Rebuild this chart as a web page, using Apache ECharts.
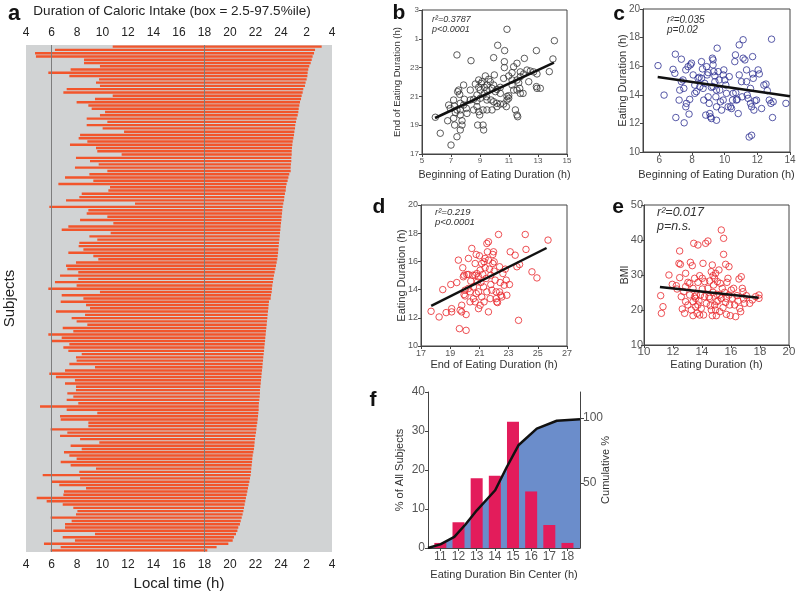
<!DOCTYPE html>
<html><head><meta charset="utf-8">
<script src="https://cdn.jsdelivr.net/npm/echarts@6/dist/echarts.min.js"></script>
<style>html,body{margin:0;padding:0;background:#fff}#c{width:800px;height:596px}</style>
</head><body><div id="c"></div>
<script>
// ---- Panel a: per-subject start / end of eating (h, >24 = next day)
const subjStart = [10.80,6.27,4.71,4.78,8.55,8.55,9.80,7.50,5.75,7.40,9.73,9.49,9.80,7.19,6.93,10.80,9.41,7.97,8.89,9.15,10.20,9.80,8.76,10.38,8.76,10.01,11.69,8.24,8.13,8.81,7.45,9.49,9.59,11.50,7.92,9.02,9.70,7.84,10.38,
8.97,7.06,9.28,6.54,10.59,10.46,8.37,8.18,7.14,12.55,5.83,8.89,8.76,10.38,8.24,10.85,7.32,6.80,10.64,8.97,9.59,8.18,8.13,8.50,7.32,9.28,9.67,7.92,7.14,7.24,8.10,6.67,8.10,6.27,7.97,5.75,9.80,6.80,8.50,
6.72,8.71,9.02,6.35,8.63,7.58,7.97,8.81,6.88,7.71,5.75,6.80,6.01,7.40,6.93,7.32,8.37,7.92,7.97,7.40,9.41,7.06,5.83,6.35,7.84,7.06,7.92,7.92,7.24,7.71,7.19,8.10,5.10,7.19,9.59,6.67,6.72,8.89,
8.89,5.93,7.24,6.67,8.24,9.75,7.50,8.37,6.98,7.40,7.97,6.72,7.50,9.49,8.18,5.31,8.24,6.01,6.61,8.71,6.98,6.93,4.84,5.62,6.88,7.71,8.03,7.92,5.93,7.58,7.06,7.06,6.14,9.41,6.88,7.84,5.41,6.72,5.93];
const subjEnd = [27.19,26.67,26.59,26.48,26.41,26.33,26.22,26.14,26.09,26.07,26.01,25.93,25.88,25.75,25.70,25.62,25.57,25.49,25.44,25.39,25.36,25.31,25.23,25.18,25.12,25.10,25.05,25.02,24.97,24.92,24.89,24.86,24.84,24.84,24.81,24.81,24.78,24.76,24.76,
24.65,24.58,24.52,24.44,24.39,24.37,24.31,24.26,24.24,24.18,24.13,24.10,24.08,24.05,24.03,24.00,23.97,23.95,23.92,23.90,23.87,23.84,23.82,23.79,23.77,23.74,23.71,23.66,23.61,23.56,23.50,23.45,23.40,23.37,23.32,23.29,23.27,23.22,23.19,
23.06,23.03,23.01,22.98,22.95,22.93,22.90,22.88,22.85,22.82,22.80,22.77,22.75,22.72,22.69,22.67,22.64,22.61,22.59,22.56,22.54,22.51,22.48,22.46,22.43,22.41,22.38,22.35,22.35,22.33,22.30,22.27,22.25,22.25,22.22,22.20,22.17,22.14,
22.09,22.07,22.04,21.99,21.96,21.93,21.91,21.88,21.83,21.78,21.75,21.73,21.70,21.67,21.65,21.62,21.57,21.52,21.46,21.41,21.36,21.31,21.25,21.20,21.15,21.10,21.05,20.99,20.92,20.84,20.78,20.65,20.58,20.47,20.31,20.21,19.87,18.95,18.22];
const hourTicks = [4,6,8,10,12,14,16,18,20,22,24,26,28];
const guideHours = [6,18];

// ---- Panel b: beginning vs end
const bBegin = [10.86,14.13,10.22,7.41,10.7,12.89,8.38,9.94,10.68,14.03,
12.06,11.55,10.68,11.32,9.99,12.24,12.47,12.7,12.93,13.78,
11.78,12.01,11.21,10.98,10.63,9.37,9.6,8.91,9.09,8.68,
7.87,7.53,8.33,8.91,9.3,9.48,9.83,10.17,9.94,10.4,
11.21,11.55,11.67,12.36,12.89,12.93,11.97,11.78,10.86,10.98,
10.4,10.06,7.46,7.6,7.18,7.23,6.84,6.95,7.41,7.64,
7.87,8.06,8.33,8.56,8.79,9.02,9.3,9.44,9.48,9.76,
9.94,10.17,10.4,10.63,10.82,10.86,10.98,11.32,11.55,11.74,
8.56,8.79,8.91,8.98,9.21,9.48,9.83,10.17,7.64,7.76,
7.18,6.77,5.92,7.25,7.76,8.84,9.21,9.25,7.64,7.41,
6.26,7.0,11.44,11.55,11.6,13.16,11.78,11.21,7.64,8.1,
7.3,7.92,8.79,9.02,9.14,9.71,9.48];
const bEnd = [25.66,24.87,24.55,23.88,24.18,24.18,23.48,23.69,23.41,23.6,
23.64,23.3,23.0,23.06,22.49,22.83,22.76,22.7,22.56,22.72,
22.7,22.56,22.65,22.42,22.25,22.42,22.19,22.14,21.9,21.86,
21.79,21.44,21.44,21.63,21.63,21.79,21.56,21.49,21.79,21.63,
21.79,22.14,21.95,22.02,21.68,21.56,21.21,21.21,21.0,21.05,
21.21,21.33,21.33,21.14,20.75,20.33,20.4,20.17,20.06,20.06,
20.4,20.17,20.75,20.8,20.68,20.87,21.21,20.98,20.75,20.75,
20.63,20.52,20.47,20.47,20.29,20.75,20.87,21.44,21.44,21.56,
20.06,20.29,19.94,19.71,20.06,20.06,20.06,20.29,19.71,19.31,
19.48,19.31,19.55,19.01,19.01,19.01,19.01,18.67,18.67,18.2,
18.44,17.62,20.06,19.71,19.59,21.56,22.37,22.14,20.52,19.82,
19.87,20.8,21.1,21.44,22.02,22.02,21.44];
const bFitX = [5.9,14.1], bFitY = [19.5,23.35];

// ---- Panel c: beginning vs duration
const cBegin = [5.92,6.29,6.98,6.84,6.95,7.01,7.21,7.35,7.25,7.45,
7.5,7.62,7.52,7.66,7.76,7.9,7.97,7.86,7.82,8.07,
8.17,8.27,8.37,8.44,8.58,8.64,8.58,8.68,8.72,8.84,
8.89,8.93,8.99,9.05,9.09,9.13,9.19,9.25,9.29,9.29,
9.33,9.4,9.4,9.29,9.46,9.5,9.5,9.54,9.6,9.66,
9.7,9.74,9.81,9.91,9.95,10.01,10.07,10.11,10.21,10.28,
10.36,10.42,10.48,10.62,10.66,10.68,10.72,10.77,10.83,10.89,
10.89,11.03,11.07,11.13,11.13,11.24,11.34,11.34,11.38,11.44,
11.5,11.65,11.58,11.58,11.65,11.71,11.71,11.75,11.79,11.85,
11.95,12.05,12.12,12.26,12.4,12.53,12.61,12.73,12.83,12.87,
12.93,12.97,13.75,8.17,8.48,8.78,7.35,7.62,9.19,9.91,
9.5,8.99,10.52];
const cDur = [16.04,13.98,16.84,15.78,15.5,12.41,13.63,16.49,14.33,15.04,
14.45,15.74,12.04,13.4,15.97,16.09,16.21,13.68,12.65,15.39,
14.1,14.22,15.15,15.22,16.32,15.81,15.15,14.45,13.63,12.58,
15.97,15.39,13.86,13.4,12.69,12.46,12.34,16.56,16.44,16.09,
15.62,15.32,14.92,14.57,13.86,13.16,12.22,17.26,15.62,15.04,
14.33,13.51,12.93,15.39,15.74,15.04,14.68,14.1,13.16,15.27,
13.16,13.04,13.63,16.32,16.79,14.15,13.63,13.68,12.69,17.49,
15.39,14.92,13.86,17.85,16.56,16.44,15.74,14.92,13.98,13.75,
11.05,11.17,14.45,13.4,13.16,16.67,15.46,15.15,12.93,13.58,
13.63,15.74,15.46,13.04,14.68,14.75,14.29,13.63,13.4,17.89,
12.41,13.51,13.4,14.68,14.57,14.8,14.92,13.16,14.52,13.63,
14.33,15.55,14.1];
const cFitX = [5.9,14.0], cFitY = [15.25,13.9];

// ---- Panel d: end vs duration
const dEnd = [17.69,18.24,18.49,18.72,19.04,19.1,19.1,19.45,19.56,19.63,
19.68,19.79,19.86,19.9,19.95,20.02,20.09,20.14,20.09,20.25,
20.25,20.36,20.48,20.55,20.59,20.71,20.71,20.78,20.82,20.87,
20.94,20.94,21.0,21.05,21.1,21.16,21.16,21.23,21.28,21.32,
21.39,21.46,21.51,21.51,21.55,21.62,21.62,21.69,21.78,21.78,
21.92,21.97,22.01,22.08,22.15,22.19,22.24,22.31,22.38,22.42,
22.47,22.54,22.61,22.7,22.77,22.84,22.88,23.06,23.11,23.45,
23.57,23.68,23.75,24.14,24.19,24.6,24.94,25.7,19.79,20.02,
20.36,20.41,20.59,20.78,20.94,21.05,21.32,21.74,21.85,22.15,
22.38,21.62,22.01,20.71,19.95,20.25,21.92,21.39];
const dDur = [12.46,12.06,14.0,12.37,14.36,12.65,12.42,14.5,16.09,11.23,
12.54,12.42,15.55,14.91,13.65,13.55,12.23,15.07,11.11,16.21,
14.08,13.84,16.92,15.02,13.36,15.85,13.13,16.49,15.14,14.55,
13.84,12.65,16.4,15.38,14.5,15.85,13.48,15.07,14.19,15.97,
15.55,14.79,17.27,13.84,16.68,12.42,16.09,15.45,15.02,14.36,
16.49,16.68,15.97,14.67,13.84,13.13,13.08,17.91,15.62,14.5,
13.6,13.48,15.14,14.31,15.45,14.67,13.6,14.36,16.68,16.44,
15.62,11.82,15.78,17.91,16.85,15.26,14.83,17.51,12.89,13.96,
13.13,14.6,14.19,13.72,14.91,12.89,13.13,13.36,13.96,13.36,
13.84,17.39,15.31,15.02,15.02,15.07,15.85,16.21];
const dFitX = [17.7,25.6], dFitY = [12.85,16.95];

// ---- Panel e: duration vs BMI
const eDur = [11.15,11.2,11.31,11.72,11.95,12.23,12.28,12.41,12.46,12.51,
12.46,12.57,12.64,12.74,12.8,12.87,12.87,13.03,13.15,13.2,
13.26,13.33,13.38,13.38,13.43,13.49,13.49,13.56,13.61,13.66,
13.72,13.72,13.79,13.84,13.89,13.95,14.02,14.07,14.11,14.18,
14.25,14.3,14.41,14.41,14.48,14.53,14.57,14.64,14.71,14.76,
14.8,14.87,14.94,14.94,14.99,15.03,15.06,15.1,15.17,15.22,
15.26,15.33,15.33,15.4,15.45,15.49,15.49,15.56,15.63,15.63,
15.68,15.72,15.86,15.86,15.91,15.95,16.02,16.09,16.18,16.25,
16.32,16.41,16.48,16.55,16.6,16.67,16.71,16.78,16.83,16.87,
16.94,17.06,17.29,17.47,17.7,17.93,17.93,13.84,14.02,14.18,
14.76,14.71,14.87,13.15,12.87,13.03,13.38,13.72,13.56,14.53,
14.64,14.99,15.68,15.22,15.79];
const eBMI = [24.1,19.05,20.95,30.0,27.33,26.95,26.0,33.33,36.86,33.05,
29.24,23.81,20.29,25.24,19.05,30.48,22.38,21.43,24.29,33.62,
20.0,32.67,18.38,22.38,39.05,23.81,29.05,20.95,24.29,19.05,
38.57,27.9,22.57,18.57,24.29,20.48,26.0,33.33,18.57,23.81,
39.05,21.9,39.71,26.19,23.81,28.29,21.24,30.95,18.38,25.05,
27.14,21.43,20.0,30.48,18.38,24.48,28.1,22.57,31.43,19.52,
27.62,42.86,23.33,26.19,20.67,40.48,35.9,25.05,33.05,22.19,
18.76,27.9,32.38,24.29,21.43,18.38,25.71,23.33,26.19,21.43,
18.1,24.1,22.57,28.86,20.48,19.52,29.52,26.19,25.24,23.14,
21.9,24.1,21.9,22.86,23.81,24.29,23.33,29.81,29.05,28.1,
29.81,32.86,29.05,27.62,26.67,27.9,26.19,21.43,23.33,23.33,
20.0,22.38,23.33,24.29,29.05];
const eFitX = [11.1,17.9], eFitY = [26.6,23.5];

// ---- Panel f: histogram + cumulative
const fBins = [11,12,13,14,15,16,17,18];
const fPct = [1.3,6.6,17.9,18.5,32.4,14.5,5.9,1.3];
const cumX = [10.32,11.0,11.77,12.37,13.01,14.02,14.66,15.3,16.31,17.41,18.69];
const cumPct = [0,2.8,8.5,17.9,29.0,44.4,62.3,79.0,91.8,97.9,99.0];

// ------------------------------------------------------------------
const FONT = "'Liberation Sans', Arial, sans-serif";
const zip = (a, b) => a.map((v, i) => [v, b[i]]);
const chart = echarts.init(document.getElementById('c'), null, {renderer: 'canvas'});

function scatterAxis(grid, min, max, vals, fs, extra) {
  const base = {
    gridIndex: grid, type: 'value', min: min, max: max,
    axisLine: {show: true, lineStyle: {color: '#444', width: 1}},
    axisTick: {show: true, length: 3, inside: false, lineStyle: {color: '#444'}, customValues: vals},
    axisLabel: {show: true, fontSize: fs, color: '#555', fontFamily: FONT, margin: 3, customValues: vals},
    splitLine: {show: false},
    nameLocation: 'middle', nameMoveOverlap: false,
    nameTextStyle: {fontFamily: FONT, fontSize: 11, color: '#333'}
  };
  extra = extra || {};
  for (const k in extra) {
    if (base[k] && typeof base[k] === 'object' && !Array.isArray(base[k])) base[k] = Object.assign({}, base[k], extra[k]);
    else base[k] = extra[k];
  }
  return base;
}
const odd = (a, b) => { const r = []; for (let v = a; v <= b; v += 2) r.push(v); return r; };
const wrap24 = v => (v > 24 ? v - 24 : v);

const scatterStyle = col => ({type: 'scatter', symbol: 'circle', symbolSize: 6.5,
  itemStyle: {color: 'rgba(0,0,0,0)', borderColor: col, borderWidth: 1}, silent: true});
const fitStyle = {type: 'line', symbol: 'none', lineStyle: {color: '#111', width: 2.5}, silent: true, z: 5};

const option = {
  animation: false,
  backgroundColor: '#fff',
  textStyle: {fontFamily: FONT},
  grid: [
    {left: 26, top: 45, width: 306, height: 509, show: true, backgroundColor: '#D1D3D4', borderWidth: 0},
    {left: 422, top: 10, width: 145, height: 144, show: true, borderColor: '#444', borderWidth: 1},
    {left: 643, top: 9, width: 147, height: 143, show: true, borderColor: '#444', borderWidth: 1},
    {left: 421, top: 205, width: 146, height: 141, show: true, borderColor: '#444', borderWidth: 1},
    {left: 644, top: 205, width: 145, height: 140, show: true, borderColor: '#444', borderWidth: 1},
    {left: 428, top: 392, width: 152, height: 156, show: false}
  ],
  xAxis: [
    {gridIndex: 0, type: 'value', min: 4, max: 28, interval: 2, position: 'bottom',
     axisLine: {lineStyle: {color: '#222'}}, axisTick: {length: 5, lineStyle: {color: '#222'}},
     axisLabel: {fontSize: 12, color: '#222', margin: 7, formatter: wrap24, customValues: hourTicks},
     splitLine: {show: false},
     name: 'Local time (h)', nameLocation: 'middle', nameGap: 24, nameMoveOverlap: false,
     nameTextStyle: {fontSize: 15, color: '#222', fontFamily: FONT}},
    {gridIndex: 0, type: 'value', min: 4, max: 28, interval: 2, position: 'top',
     axisLine: {lineStyle: {color: '#222'}}, axisTick: {length: 5, lineStyle: {color: '#222'}},
     axisLabel: {fontSize: 12, color: '#222', margin: 6, formatter: wrap24, customValues: hourTicks},
     splitLine: {show: false}},
    scatterAxis(1, 5, 15, odd(5, 15), 8, {name: 'Beginning of Eating Duration (h)', nameGap: 15.5, nameTextStyle: {fontSize: 10.7}}),
    scatterAxis(2, 5, 14, [6, 8, 10, 12, 14], 10, {name: 'Beginning of Eating Duration (h)', nameGap: 17.5}),
    scatterAxis(3, 17, 27, odd(17, 27), 9, {name: 'End of Eating Duration (h)', nameGap: 13.5}),
    scatterAxis(4, 10, 20, [10, 12, 14, 16, 18, 20], 11.5, {name: 'Eating Duration (h)', nameGap: 14.5, axisLabel: {margin: 1}}),
    scatterAxis(5, 10.32, 18.69, fBins, 12, {name: 'Eating Duration Bin Center (h)', nameGap: 21.5})
  ],
  yAxis: [
    {gridIndex: 0, type: 'category', inverse: true, data: subjStart.map((_, i) => i + 1),
     axisLine: {show: false}, axisTick: {show: false}, axisLabel: {show: false}, splitLine: {show: false},
     name: 'Subjects', nameLocation: 'middle', nameGap: 9, nameMoveOverlap: false,
     nameTextStyle: {fontSize: 15, color: '#222', fontFamily: FONT}},
    scatterAxis(1, 17, 27, odd(17, 27), 8, {name: 'End of Eating Duration (h)', nameGap: 20,
      nameTextStyle: {fontSize: 9.5}, axisLabel: {formatter: wrap24}}),
    scatterAxis(2, 10, 20, [10, 12, 14, 16, 18, 20], 10, {name: 'Eating Duration (h)', nameGap: 14.5}),
    scatterAxis(3, 10, 20, [10, 12, 14, 16, 18, 20], 9, {name: 'Eating Duration (h)', nameGap: 13.5}),
    scatterAxis(4, 10, 50, [10, 20, 30, 40, 50], 11, {name: 'BMI', nameGap: 13, axisLabel: {margin: 1},
      nameTextStyle: {fontSize: 10.5}}),
    scatterAxis(5, 0, 40, [0, 10, 20, 30, 40], 12, {name: '% of All Subjects', nameGap: 22.5}),
    scatterAxis(5, 0, 120, [50, 100], 12, {position: 'right', name: 'Cumulative %', nameGap: 20.5,
      axisTick: {length: 4}})
  ],
  series: [
    {type: 'custom', xAxisIndex: 0, yAxisIndex: 0,
     data: subjStart.map((s, i) => [i, s, subjEnd[i]]),
     encode: {x: [1, 2], y: 0},
     renderItem: function (params, api) {
       const i = api.value(0);
       const p1 = api.coord([api.value(1), i]);
       const p2 = api.coord([api.value(2), i]);
       const h = api.size([0, 1])[1] * 0.74;
       return {type: 'rect', shape: {x: p1[0], y: p1[1] - h / 2, width: p2[0] - p1[0], height: h},
               style: {fill: '#F2552B'}};
     },
     markLine: {silent: true, symbol: 'none', label: {show: false},
       lineStyle: {color: '#7d7d7d', type: 'solid', width: 1},
       data: guideHours.map(h => ({xAxis: h}))},
     z: 2},
    Object.assign(scatterStyle('#333'), {xAxisIndex: 2, yAxisIndex: 1, data: zip(bBegin, bEnd)}),
    Object.assign({}, fitStyle, {xAxisIndex: 2, yAxisIndex: 1, data: zip(bFitX, bFitY)}),
    Object.assign(scatterStyle('#2E3192'), {xAxisIndex: 3, yAxisIndex: 2, data: zip(cBegin, cDur)}),
    Object.assign({}, fitStyle, {xAxisIndex: 3, yAxisIndex: 2, data: zip(cFitX, cFitY)}),
    Object.assign(scatterStyle('#E8262B'), {xAxisIndex: 4, yAxisIndex: 3, data: zip(dEnd, dDur)}),
    Object.assign({}, fitStyle, {xAxisIndex: 4, yAxisIndex: 3, data: zip(dFitX, dFitY)}),
    Object.assign(scatterStyle('#E8262B'), {xAxisIndex: 5, yAxisIndex: 4, data: zip(eDur, eBMI)}),
    Object.assign({}, fitStyle, {xAxisIndex: 5, yAxisIndex: 4, data: zip(eFitX, eFitY)}),
    {type: 'line', xAxisIndex: 6, yAxisIndex: 6, data: zip(cumX, cumPct), symbol: 'none',
     lineStyle: {width: 0}, areaStyle: {color: '#6B8DCB', opacity: 1}, z: 1, silent: true},
    {type: 'bar', xAxisIndex: 6, yAxisIndex: 5, data: zip(fBins, fPct), barWidth: 12,
     itemStyle: {color: '#E31C5B'}, z: 2, silent: true},
    {type: 'line', xAxisIndex: 6, yAxisIndex: 6, data: zip(cumX, cumPct), symbol: 'none',
     lineStyle: {color: '#111', width: 2.5}, z: 3, silent: true}
  ],
  graphic: [
    {type: 'text', x: 172, y: 11, style: {text: 'Duration of Caloric Intake (box = 2.5-97.5%ile)', font: '13.5px ' + FONT, fill: '#222', align: 'center', verticalAlign: 'middle'}},
    {type: 'text', x: 14, y: 14, style: {text: 'a', font: 'bold 22px ' + FONT, fill: '#111', align: 'center', verticalAlign: 'middle'}},
    {type: 'text', x: 399, y: 13, style: {text: 'b', font: 'bold 21px ' + FONT, fill: '#111', align: 'center', verticalAlign: 'middle'}},
    {type: 'text', x: 619, y: 14, style: {text: 'c', font: 'bold 21px ' + FONT, fill: '#111', align: 'center', verticalAlign: 'middle'}},
    {type: 'text', x: 379, y: 207, style: {text: 'd', font: 'bold 21px ' + FONT, fill: '#111', align: 'center', verticalAlign: 'middle'}},
    {type: 'text', x: 618, y: 207, style: {text: 'e', font: 'bold 21px ' + FONT, fill: '#111', align: 'center', verticalAlign: 'middle'}},
    {type: 'text', x: 373, y: 400, style: {text: 'f', font: 'bold 21px ' + FONT, fill: '#111', align: 'center', verticalAlign: 'middle'}},
    {type: 'text', x: 432, y: 19, style: {text: 'r²=0.3787', font: 'italic 9px ' + FONT, fill: '#333', verticalAlign: 'middle'}},
    {type: 'text', x: 432, y: 29, style: {text: 'p<0.0001', font: 'italic 9px ' + FONT, fill: '#333', verticalAlign: 'middle'}},
    {type: 'text', x: 667, y: 20, style: {text: 'r²=0.035', font: 'italic 10px ' + FONT, fill: '#333', verticalAlign: 'middle'}},
    {type: 'text', x: 667, y: 30, style: {text: 'p=0.02', font: 'italic 10px ' + FONT, fill: '#333', verticalAlign: 'middle'}},
    {type: 'text', x: 435, y: 212, style: {text: 'r²=0.219', font: 'italic 9.5px ' + FONT, fill: '#333', verticalAlign: 'middle'}},
    {type: 'text', x: 435, y: 222, style: {text: 'p<0.0001', font: 'italic 9.5px ' + FONT, fill: '#333', verticalAlign: 'middle'}},
    {type: 'text', x: 657, y: 213, style: {text: 'r²=0.017', font: 'italic 12.5px ' + FONT, fill: '#333', verticalAlign: 'middle'}},
    {type: 'text', x: 657, y: 227, style: {text: 'p=n.s.', font: 'italic 12.5px ' + FONT, fill: '#333', verticalAlign: 'middle'}}
  ]
};
chart.setOption(option);
</script></body></html>
